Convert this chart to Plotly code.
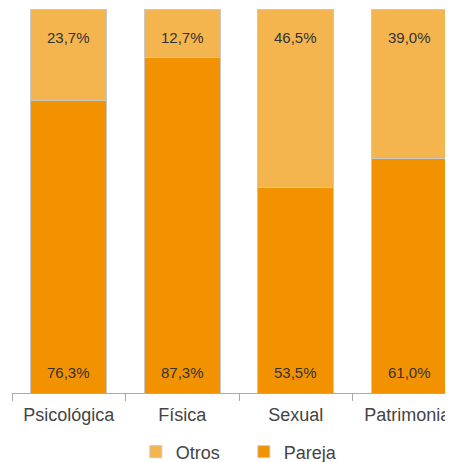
import plotly.graph_objects as go

categorias = ["Psicológica", "Física", "Sexual", "Patrimonial"]
pareja = [76.3, 87.3, 53.5, 61.0]
otros = [23.7, 12.7, 46.5, 39.0]

def fmt(v):
    return f"{v:.1f}%".replace(".", ",")

fig = go.Figure()
fig.add_trace(go.Bar(
    x=categorias, y=pareja, name="Pareja",
    marker=dict(color="#F39200", line=dict(color="#C8C8C8", width=1)),
))
fig.add_trace(go.Bar(
    x=categorias, y=otros, name="Otros",
    marker=dict(color="#F5B54E", line=dict(color="#C8C8C8", width=1)),
))

annots = []
for c, p, o in zip(categorias, pareja, otros):
    annots.append(dict(x=c, y=0, text=fmt(p), showarrow=False, yshift=21,
                       font=dict(size=15, color="#333")))
    annots.append(dict(x=c, y=p + o, text=fmt(o), showarrow=False, yshift=-28,
                       font=dict(size=15, color="#333")))

# page body has an 8px margin, so the figure is shifted and clipped on the right
fig.update_layout(
    barmode="stack",
    bargap=0.33,
    width=470, height=462,
    margin=dict(l=4, r=12, t=0, b=77),
    paper_bgcolor="white", plot_bgcolor="white",
    font=dict(family="Liberation Sans, Arial, sans-serif", size=17, color="#444"),
    showlegend=True,
    legend=dict(orientation="h", x=0.272, xanchor="left", y=0.039, yanchor="middle",
                xref="container", yref="container",
                traceorder="reversed", font=dict(size=18, color="#444"),
                itemwidth=30, tracegroupgap=0,
                entrywidth=63, entrywidthmode="pixels"),
    annotations=annots,
    xaxis=dict(range=[-0.5, 3.5], showline=True, linecolor="#AAAAAA", linewidth=1,
               ticks="outside", tickson="boundaries", ticklen=7, tickcolor="#AAAAAA",
               automargin=False, ticklabelstandoff=5,
               tickfont=dict(size=18, color="#444")),
    yaxis=dict(range=[0, 100.3], visible=False, showgrid=False, automargin=False),
)

fig.write_html("out.html")
